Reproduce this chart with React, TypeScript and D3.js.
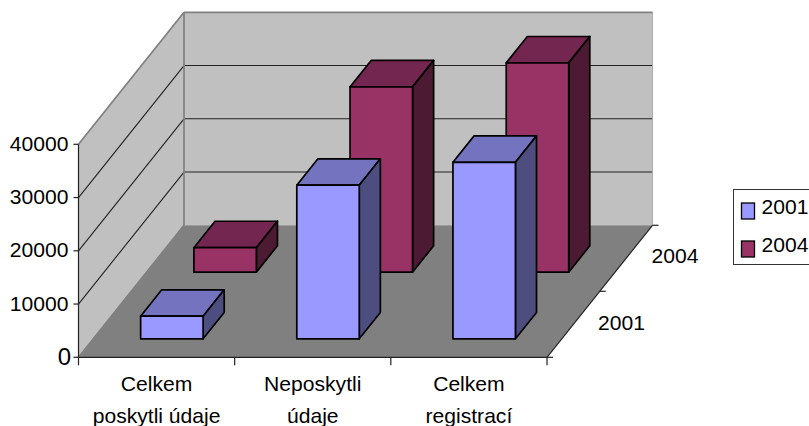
import React from "react";
import * as d3 from "d3";

const categories = [["Celkem", "poskytli údaje"], ["Neposkytli", "údaje"], ["Celkem", "registrací"]];
const seriesNames = ["2001", "2004"];
const values2001 = [4250, 28850, 33150];
const values2004 = [4600, 34800, 39300];
const yTicks = [0, 10000, 20000, 30000, 40000];
const catKeys = ["0", "1", "2"];

const W = 809, H = 426;
const x = d3.scaleBand<string>().domain(catKeys).range([79, 547.5]).paddingInner(0.6).paddingOuter(0.3);
const catStep = d3.scaleLinear().domain([0, 3]).range([78.5, 547]);
const y = d3.scaleLinear().domain([0, 40000]).range([357.3, 144.3]);
const dx = d3.scaleLinear().domain([0, 1]).range([0, 105.5]);
const dy = d3.scaleLinear().domain([0, 1]).range([0, -132]);
const P = (px: number, py: number, d: number): [number, number] => [px + dx(d), py + dy(d)];
const path = (pts: [number, number][]) => "M" + pts.map((p) => p.map((n) => n.toFixed(2)).join(",")).join("L") + "Z";
const line = (a: [number, number], b: [number, number]) => ({ x1: a[0], y1: a[1], x2: b[0], y2: b[1] });

const FONT = "'Liberation Sans', Arial, sans-serif";
const FS = 21.1;
const palette = [
  { front: "#9999FF", top: "#7373BF", side: "#4D4D80" },
  { front: "#993366", top: "#732650", side: "#4D1A33" },
];
const barStart = [0.14, 0.645];
const barDepth = 0.2;

function Bar({ cat, value, s }: { cat: number; value: number; s: number }) {
  const x0 = x(catKeys[cat])!;
  const x1 = x0 + x.bandwidth();
  const d0 = barStart[s], d1 = d0 + barDepth;
  const b = y(0), t = y(value);
  const c = palette[s];
  const stroke = { stroke: "#000", strokeWidth: 1.7, strokeLinejoin: "round" as const };
  return (
    <g>
      <path d={path([P(x0, t, d0), P(x1, t, d0), P(x1, t, d1), P(x0, t, d1)])} fill={c.top} {...stroke} />
      <path d={path([P(x1, b, d0), P(x1, t, d0), P(x1, t, d1), P(x1, b, d1)])} fill={c.side} {...stroke} />
      <path d={path([P(x0, b, d0), P(x1, b, d0), P(x1, t, d0), P(x0, t, d0)])} fill={c.front} {...stroke} />
    </g>
  );
}

export default function App() {
  const L = 78.5, R = 547, B = y(0), T = y(40000);
  return (
    <svg width={W} height={H} style={{ position: "absolute", left: 0, top: 0 }} fontFamily={FONT} fontSize={FS} fill="#000">
      <rect width={W} height={H} fill="#fff" />
      {/* walls and floor */}
      <path d={path([P(L, B, 0), P(L, T, 0), P(L, T, 1), P(L, B, 1)])} fill="#C0C0C0" />
      <path d={path([P(L, T, 1), P(R, T, 1), P(R, B, 1), P(L, B, 1)])} fill="#C0C0C0" />
      {yTicks.slice(1, -1).map((v) => (
        <g key={v} stroke="#222" strokeWidth={1.1}>
          <line {...line(P(L, y(v), 0), P(L, y(v), 1))} />
          <line {...line(P(L, y(v), 1), P(R, y(v), 1))} />
        </g>
      ))}
      <path d={path([P(L, B, 0), P(R, B, 0), P(R, B, 1), P(L, B, 1)])} fill="#808080" />
      <g stroke="#808080" strokeWidth={1.7} fill="none">
        <line {...line(P(L, T, 0), P(L, T, 1))} />
        <line {...line(P(L, T, 1), P(R, T, 1))} />
        <line {...line(P(L, T, 1), P(L, B, 1))} />
        <line {...line(P(L, B, 0), P(L, B, 1))} />
        <line {...line(P(R, T, 1), P(R, B, 1))} strokeWidth={0.8} stroke="#A0A0A0" />
      </g>
      {/* bars, back to front */}
      {values2004.map((v, i) => <Bar key={"b" + i} cat={i} value={v} s={1} />)}
      {values2001.map((v, i) => <Bar key={"a" + i} cat={i} value={v} s={0} />)}
      {/* axes */}
      <g stroke="#222" strokeWidth={1.2} fill="none">
        <line x1={L} x2={L} y1={T} y2={B} />
        <line x1={L} x2={R} y1={B} y2={B} />
        <line {...line(P(R, B, 0), P(R, B, 1))} />
        {yTicks.map((v) => <line key={v} x1={L - 5} x2={L} y1={y(v)} y2={y(v)} />)}
        {d3.range(0, 4).map((i) => <line key={i} x1={catStep(i)} x2={catStep(i)} y1={B} y2={B + 8} />)}
        {[0, 0.5, 1].map((d) => {
          const p = P(R, B, d);
          return <line key={d} x1={p[0]} x2={p[0] + 6} y1={p[1]} y2={p[1]} />;
        })}
      </g>
      {/* labels */}
      {yTicks.map((v) => (
        <text key={v} x={v === 0 ? L - 7.5 : L - 10} y={y(v) + (v === 0 ? 8 : 6.5)} textAnchor="end" fontSize={v === 0 ? 24 : FS}>{v}</text>
      ))}
      {categories.map((c, i) => {
        const cx = (catStep(i) + catStep(i + 1)) / 2;
        return (
          <text key={i} textAnchor="middle">
            <tspan x={cx} y={391}>{c[0]}</tspan>
            <tspan x={cx} y={423}>{c[1]}</tspan>
          </text>
        );
      })}
      <text x={598} y={330}>{seriesNames[0]}</text>
      <text x={651.5} y={263}>{seriesNames[1]}</text>
      {/* legend */}
      <rect x={733.5} y={189.5} width={90} height={75} fill="#fff" stroke="#333" strokeWidth={1} />
      {seriesNames.map((n, i) => (
        <g key={n}>
          <rect x={741.5} y={203 + i * 38} width={13} height={16} fill={palette[i].front} stroke="#000" strokeWidth={1.3} />
          <text x={761.5} y={213.5 + i * 38.5}>{n}</text>
        </g>
      ))}
    </svg>
  );
}
